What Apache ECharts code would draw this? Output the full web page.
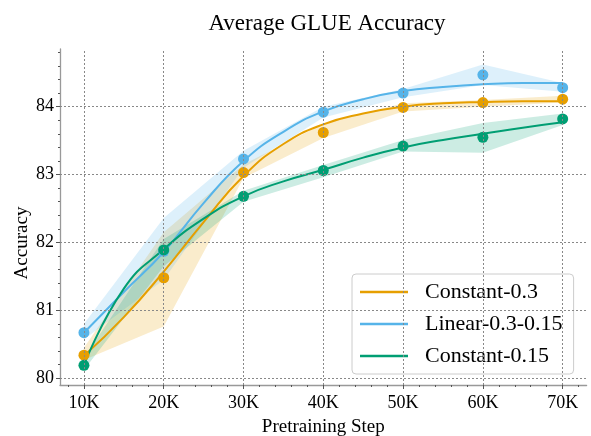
<!DOCTYPE html>
<html><head><meta charset="utf-8">
<script src="https://cdn.jsdelivr.net/npm/echarts@6/dist/echarts.min.js"></script>
<style>html,body{margin:0;padding:0;background:#fff}#c{width:591px;height:436px}</style>
</head><body><div id="c"></div>
<script>
const steps = [10, 20, 30, 40, 50, 60, 70];
const xTickLabels = ['10K', '20K', '30K', '40K', '50K', '60K', '70K'];
const yTicks = [80, 81, 82, 83, 84];
const seriesNames = ['Constant-0.3', 'Linear-0.3-0.15', 'Constant-0.15'];

// measured points (mean)
const c03Points = [80.34, 81.48, 83.03, 83.62, 83.99, 84.06, 84.11];
const linPoints = [80.67, 81.87, 83.23, 83.92, 84.20, 84.47, 84.28];
const c015Points = [80.19, 81.89, 82.68, 83.06, 83.42, 83.55, 83.82];

// fitted curves every 5K
const fitSteps = [10, 15, 20, 25, 30, 35, 40, 45, 50, 55, 60, 65, 70];
const c03Fit = [80.33, 80.90, 81.57, 82.30, 82.98, 83.45, 83.74, 83.90, 84.00, 84.05, 84.07, 84.08, 84.08];
const linFit = [80.67, 81.27, 81.86, 82.58, 83.20, 83.63, 83.93, 84.11, 84.23, 84.29, 84.33, 84.35, 84.35];
const c015Fit = [80.19, 81.32, 81.90, 82.35, 82.68, 82.90, 83.07, 83.25, 83.40, 83.51, 83.60, 83.69, 83.77];

// shaded bands (lower / upper)
const c03Lower = [80.27, 80.76, 82.95, 83.54, 83.93, 84.00, 84.06];
const c03Upper = [80.45, 82.15, 83.15, 83.75, 84.05, 84.10, 84.16];
const linLower = [80.57, 81.45, 83.10, 83.84, 84.14, 84.32, 84.22];
const linUpper = [80.80, 82.36, 83.35, 84.00, 84.26, 84.62, 84.35];
const c015Lower = [80.12, 81.65, 82.60, 82.96, 83.34, 83.32, 83.73];
const c015Upper = [80.30, 82.05, 82.76, 83.14, 83.51, 83.76, 83.90];

const colors = ['#E69F00', '#56B4E9', '#009E73'];
const bandColors = ['rgba(230,159,0,0.2)', 'rgba(86,180,233,0.2)', 'rgba(0,158,115,0.2)'];
const minorX = [8,12,14,16,18,22,24,26,28,32,34,36,38,42,44,46,48,52,54,56,58,62,64,66,68,72];
const minorY = [80.2,80.4,80.6,80.8,81.2,81.4,81.6,81.8,82.2,82.4,82.6,82.8,83.2,83.4,83.6,83.8,84.2,84.4,84.6,84.8];

const pts = [c03Points, linPoints, c015Points];
const fits = [c03Fit, linFit, c015Fit];
const lows = [c03Lower, linLower, c015Lower];
const ups = [c03Upper, linUpper, c015Upper];

const font = 'Liberation Serif';
const series = [];
function bandRender(low, up, color) {
  return function (params, api) {
    if (params.dataIndex !== 0) return null;
    const top = steps.map((s, k) => api.coord([s, up[k]]));
    const bot = steps.map((s, k) => api.coord([s, low[k]])).reverse();
    return {type: 'polygon', shape: {points: top.concat(bot)}, style: {fill: color}, silent: true};
  };
}
for (let i = 0; i < 3; i++) {
  series.push({
    name: 'band-' + i, type: 'custom', silent: true, z: 1,
    renderItem: bandRender(lows[i], ups[i], bandColors[i]),
    encode: {x: 0, y: [1, 2]},
    data: steps.map((s, k) => [s, lows[i][k], ups[i][k]])
  });
}
for (let i = 0; i < 3; i++) {
  series.push({
    name: seriesNames[i], type: 'line', smooth: 0.5, symbol: 'none',
    lineStyle: {color: colors[i], width: 2}, itemStyle: {color: colors[i]},
    data: fitSteps.map((s, k) => [s, fits[i][k]]), z: 3
  });
}
for (let i = 0; i < 3; i++) {
  series.push({
    name: 'pts-' + i, type: 'scatter', symbolSize: 11, itemStyle: {color: colors[i], opacity: 1},
    data: steps.map((s, k) => [s, pts[i][k]]), z: 4
  });
}
// grid lines
series.push({
  name: 'grid', type: 'line', data: [], silent: true,
  markLine: {
    silent: true, symbol: 'none', label: {show: false}, animation: false,
    lineStyle: {color: '#888', type: [2, 2], width: 1},
    data: steps.map(s => ({xAxis: s})).concat(yTicks.map(v => ({yAxis: v})))
  }, z: 0
});

const chart = echarts.init(document.getElementById('c'));
chart.setOption({
  animation: false,
  title: {text: 'Average GLUE Accuracy', left: 322, textAlign: 'center', top: 7,
    textStyle: {fontFamily: font, fontSize: 23, fontWeight: 'normal', color: '#000'}},
  grid: {left: 60, right: 4.4, top: 49, bottom: 51, outerBoundsMode: 'none', containLabel: false},
  legend: {
    data: seriesNames, orient: 'vertical', left: 352, top: 274,
    icon: 'rect', itemWidth: 48, itemHeight: 2.5, itemGap: 10,
    padding: [7, 11, 7, 8],
    backgroundColor: '#fff', borderColor: '#ccc', borderWidth: 1, borderRadius: 4,
    textStyle: {fontFamily: font, fontSize: 22, lineHeight: 22, color: '#000', padding: [0, 0, 0, 12]}
  },
  xAxis: [{
    type: 'value', min: 7, max: 73,
    name: 'Pretraining Step', nameLocation: 'middle', nameGap: 33,
    nameTextStyle: {fontFamily: font, fontSize: 19, color: '#000'},
    axisLine: {show: true, lineStyle: {color: '#999', width: 1.3}},
    axisTick: {show: true, customValues: steps, length: 4, lineStyle: {color: '#555'}},
    axisLabel: {customValues: steps, formatter: v => xTickLabels[steps.indexOf(v)],
      fontFamily: font, fontSize: 18, color: '#000', margin: 9},
    splitLine: {show: false}
  }, {
    type: 'value', min: 7, max: 73, position: 'bottom', gridIndex: 0,
    axisLine: {show: false},
    axisTick: {show: true, customValues: minorX, length: 2, lineStyle: {color: '#555'}},
    axisLabel: {show: false}, splitLine: {show: false}
  }],
  yAxis: [{
    type: 'value', min: 79.9, max: 84.85,
    name: 'Accuracy', nameLocation: 'middle', nameGap: 28, nameMoveOverlap: false,
    nameTextStyle: {fontFamily: font, fontSize: 19, color: '#000', padding: [0, 52, 0, 0]},
    axisLine: {show: true, lineStyle: {color: '#999', width: 1.3}},
    axisTick: {show: true, customValues: yTicks, length: 4, lineStyle: {color: '#555'}},
    axisLabel: {customValues: yTicks, formatter: v => String(Math.round(v)),
      fontFamily: font, fontSize: 18, color: '#000', margin: 6},
    splitLine: {show: false}
  }, {
    type: 'value', min: 79.9, max: 84.85, position: 'left',
    axisLine: {show: false},
    axisTick: {show: true, customValues: minorY, length: 2, lineStyle: {color: '#555'}},
    axisLabel: {show: false}, splitLine: {show: false}
  }],
  series: series
});
</script></body></html>
